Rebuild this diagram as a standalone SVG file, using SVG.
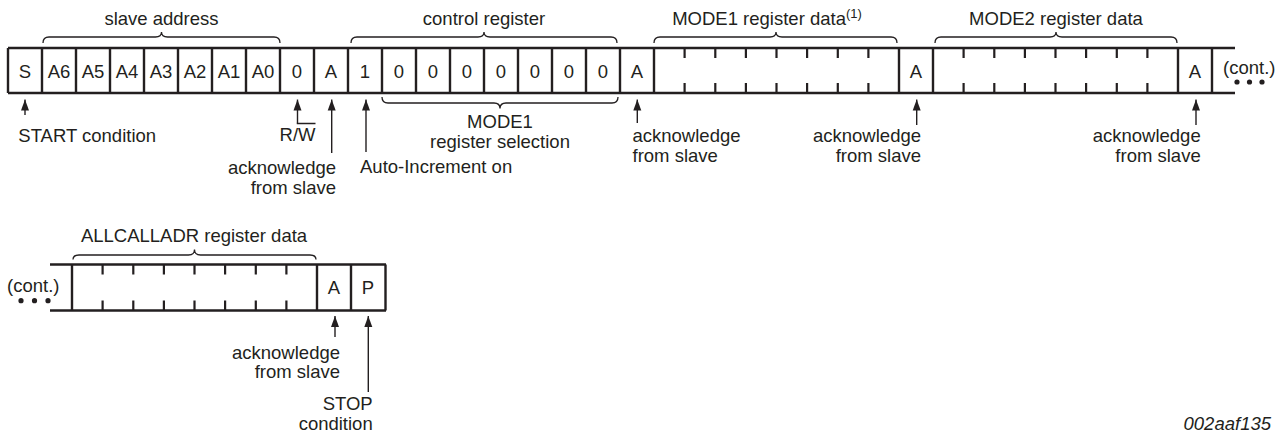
<svg xmlns="http://www.w3.org/2000/svg" width="1287" height="434" viewBox="0 0 1287 434">
<defs>
<marker id="ah" markerUnits="userSpaceOnUse" markerWidth="9" markerHeight="12" refX="0" refY="0" orient="0" viewBox="-4.5 0 9 12">
<path d="M-4,11 L0,0 L4,11 Z" fill="#231f20"/>
</marker>
</defs>
<style>
text{font-family:"Liberation Sans",Arial,sans-serif;font-size:18.5px;fill:#231f20}
.c{text-anchor:middle}
.r{text-anchor:end}
.frame{stroke:#231f20;stroke-width:2.6;fill:none}
.div{stroke:#231f20;stroke-width:2.4;fill:none}
.tick{stroke:#231f20;stroke-width:2.2;fill:none}
.brace{stroke:#231f20;stroke-width:1.3;fill:none}
.arr{stroke:#231f20;stroke-width:1.4;fill:none;marker-end:url(#ah)}
.dot{fill:#231f20}
</style>
<rect width="1287" height="434" fill="#fff"/>

<g id="row1">
<path class="frame" d="M8,48 H1235 M8,93 H1235"/>
<path class="div" d="M8,48V93 M42,48V93 M76,48V93 M110,48V93 M144,48V93 M178,48V93 M212,48V93 M246,48V93 M280,48V93 M314,48V93 M348,48V93 M382,48V93 M416,48V93 M450,48V93 M484,48V93 M518,48V93 M552,48V93 M586,48V93 M620,48V93 M654,48V93 M899,48V93 M933,48V93 M1178,48V93 M1212,48V93"/>
<path class="tick" d="M684.6,48V58 M715.3,48V58 M745.9,48V58 M776.5,48V58 M807.1,48V58 M837.8,48V58 M868.4,48V58 M684.6,83V93 M715.3,83V93 M745.9,83V93 M776.5,83V93 M807.1,83V93 M837.8,83V93 M868.4,83V93"/>
<path class="tick" d="M963.6,48V58 M994.3,48V58 M1024.9,48V58 M1055.5,48V58 M1086.1,48V58 M1116.8,48V58 M1147.4,48V58 M963.6,83V93 M994.3,83V93 M1024.9,83V93 M1055.5,83V93 M1086.1,83V93 M1116.8,83V93 M1147.4,83V93"/>
</g>

<g id="cells1">
<text class="c" x="25" y="77.5">S</text>
<text class="c" x="59" y="77.5">A6</text>
<text class="c" x="93" y="77.5">A5</text>
<text class="c" x="127" y="77.5">A4</text>
<text class="c" x="161" y="77.5">A3</text>
<text class="c" x="195" y="77.5">A2</text>
<text class="c" x="229" y="77.5">A1</text>
<text class="c" x="263" y="77.5">A0</text>
<text class="c" x="297" y="77.5">0</text>
<text class="c" x="331" y="77.5">A</text>
<text class="c" x="365" y="77.5">1</text>
<text class="c" x="399" y="77.5">0</text>
<text class="c" x="433" y="77.5">0</text>
<text class="c" x="467" y="77.5">0</text>
<text class="c" x="501" y="77.5">0</text>
<text class="c" x="535" y="77.5">0</text>
<text class="c" x="569" y="77.5">0</text>
<text class="c" x="603" y="77.5">0</text>
<text class="c" x="637" y="77.5">A</text>
<text class="c" x="916" y="77.5">A</text>
<text class="c" x="1195" y="77.5">A</text>
</g>

<g id="cont1">
<text x="1223" y="74">(cont.)</text>
<circle class="dot" cx="1237" cy="82" r="2.6"/>
<circle class="dot" cx="1249.5" cy="82" r="2.6"/>
<circle class="dot" cx="1262" cy="82" r="2.6"/>
</g>

<g id="braces">
<path class="brace" d="M43,43 Q43,37 49,37 H155.5 Q161.5,37 161.5,32 Q161.5,37 167.5,37 H274 Q280,37 280,43"/>
<text class="c" x="161.5" y="25">slave address</text>
<path class="brace" d="M351,43 Q351,37 357,37 H478 Q484,37 484,32 Q484,37 490,37 H611 Q617,37 617,43"/>
<text class="c" x="484" y="25">control register</text>
<path class="brace" d="M654,43 Q654,37 660,37 H770 Q776,37 776,32 Q776,37 782,37 H891 Q897,37 897,43"/>
<text class="c" x="767" y="25">MODE1 register data<tspan font-size="13" dy="-7">(1)</tspan></text>
<path class="brace" d="M935,43 Q935,37 941,37 H1050 Q1056,37 1056,32 Q1056,37 1062,37 H1171 Q1177,37 1177,43"/>
<text class="c" x="1056" y="25">MODE2 register data</text>
<path class="brace" d="M382,97 Q382,103 388,103 H494 Q500,103 500,108.5 Q500,103 506,103 H612 Q618,103 618,97"/>
<text class="c" x="500" y="128">MODE1</text>
<text class="c" x="500" y="147.5">register selection</text>
<path class="brace" d="M73,259.5 Q73,255 79,255 H188.5 Q194.5,255 194.5,249.5 Q194.5,255 200.5,255 H310 Q316,255 316,259.5"/>
<text class="c" x="194" y="242">ALLCALLADR register data</text>
</g>

<g id="row2">
<path class="frame" d="M50,264.5 H386 M50,310.5 H386"/>
<path class="div" d="M72,264.5V310.5 M317,264.5V310.5 M351,264.5V310.5 M385.5,264.5V310.5"/>
<path class="tick" d="M102.6,264.5V274.5 M133.3,264.5V274.5 M163.9,264.5V274.5 M194.5,264.5V274.5 M225.1,264.5V274.5 M255.8,264.5V274.5 M286.4,264.5V274.5 M102.6,300.5V310.5 M133.3,300.5V310.5 M163.9,300.5V310.5 M194.5,300.5V310.5 M225.1,300.5V310.5 M255.8,300.5V310.5 M286.4,300.5V310.5"/>
<text class="c" x="334" y="294">A</text>
<text class="c" x="368" y="294">P</text>
<text x="7" y="291.5">(cont.)</text>
<circle class="dot" cx="21" cy="300.7" r="2.6"/>
<circle class="dot" cx="34.5" cy="300.7" r="2.6"/>
<circle class="dot" cx="48" cy="300.7" r="2.6"/>
</g>

<g id="connectors">
<line class="arr" x1="25" y1="115" x2="25" y2="99.5"/>
<line class="arr" x1="297.5" y1="123.5" x2="297.5" y2="99.5"/>
<line class="arr" x1="331.7" y1="153" x2="331.7" y2="99.5"/>
<line class="arr" x1="366" y1="152" x2="366" y2="99.5"/>
<line class="arr" x1="637.3" y1="123" x2="637.3" y2="99.5"/>
<line class="arr" x1="916.7" y1="125" x2="916.7" y2="99.5"/>
<line class="arr" x1="1196" y1="125" x2="1196" y2="99.5"/>
<line class="arr" x1="335" y1="337" x2="335" y2="316"/>
<line class="arr" x1="368.3" y1="392" x2="368.3" y2="316"/>
<line stroke="#231f20" stroke-width="1.5" x1="296.8" y1="123.5" x2="315.5" y2="123.5"/>
</g>

<g id="labels">
<text x="18.3" y="141.5">START condition</text>
<text class="r" x="315.5" y="141">R/W</text>
<text class="r" x="336" y="174">acknowledge</text>
<text class="r" x="336" y="193.5">from slave</text>
<text x="360" y="173">Auto-Increment on</text>
<text x="632.5" y="142">acknowledge</text>
<text x="632.5" y="161.5">from slave</text>
<text class="r" x="921" y="142">acknowledge</text>
<text class="r" x="921" y="161.5">from slave</text>
<text class="r" x="1200.7" y="142">acknowledge</text>
<text class="r" x="1200.7" y="161.5">from slave</text>
<text class="r" x="340" y="358.5">acknowledge</text>
<text class="r" x="340" y="378">from slave</text>
<text class="r" x="372.7" y="410">STOP</text>
<text class="r" x="372.7" y="430">condition</text>
<text class="r" x="1271" y="430" font-size="15" font-style="italic">002aaf135</text>
</g>
</svg>
